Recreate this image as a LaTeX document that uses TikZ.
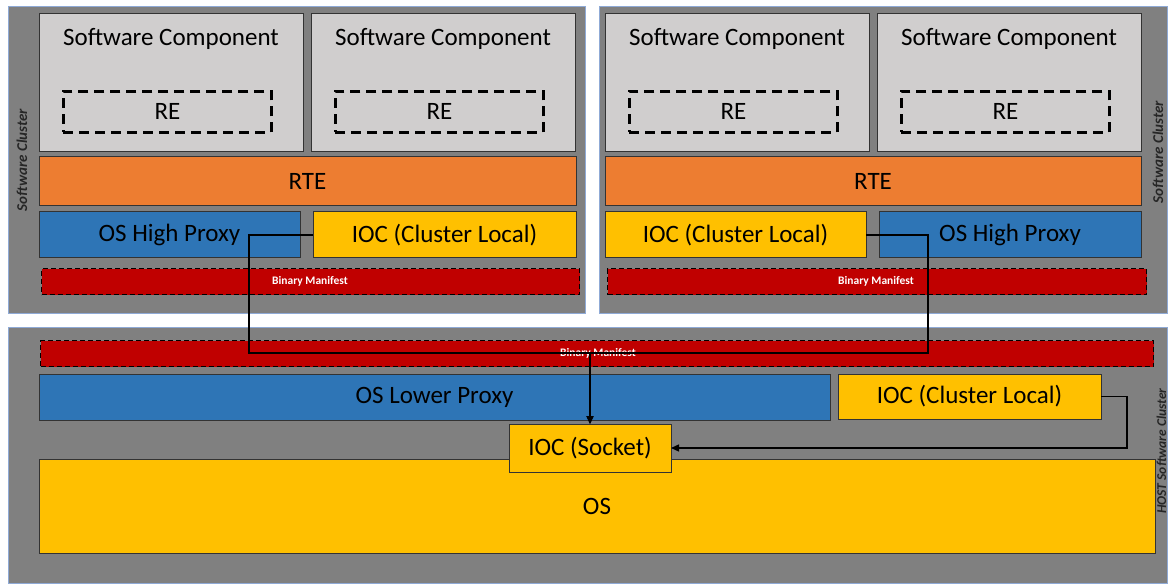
\documentclass[tikz,border=0pt]{standalone}
\usepackage{fontspec}
\setmainfont{Carlito}
\usetikzlibrary{arrows.meta}

\definecolor{panelgrey}{RGB}{128,128,128}
\definecolor{paneledge}{RGB}{143,170,214}
\definecolor{compgrey}{RGB}{208,206,206}
\definecolor{rteorange}{RGB}{237,125,49}
\definecolor{proxyblue}{RGB}{46,117,182}
\definecolor{iocyellow}{RGB}{255,192,0}
\definecolor{manifestred}{RGB}{192,0,0}
\definecolor{labelgrey}{RGB}{38,38,38}

\begin{document}
\begin{tikzpicture}[x=1pt, y=-1pt,
    panel/.style={draw=paneledge, fill=panelgrey, line width=1pt, anchor=north west, inner sep=0pt, outer sep=0pt},
    block/.style={draw=black!80, line width=1pt, anchor=north west, inner sep=0pt, outer sep=0pt, text=black, font=\fontsize{25}{29}\selectfont},
    swbox/.style={block, fill=compgrey, minimum width=264, minimum height=138},
    rebox/.style={draw=black, line width=2.8pt, dash pattern=on 10pt off 6pt, anchor=north west, inner sep=0pt, minimum width=208, minimum height=41, font=\fontsize{25}{29}\selectfont},
    rtebox/.style={block, fill=rteorange, minimum height=49},
    proxybox/.style={block, fill=proxyblue, minimum height=46},
    iocbox/.style={block, fill=iocyellow, minimum height=46},
    manifestbox/.style={draw=black, line width=1.3pt, dash pattern=on 5pt off 3pt, fill=manifestred, anchor=north west, inner sep=0pt, minimum height=26},
    manifesttext/.style={text=white, font=\fontsize{11.5}{13}\selectfont\bfseries},
    clusterlabel/.style={rotate=90, inner sep=1pt, text=labelgrey, font=\fontsize{15}{17}\selectfont\bfseries\itshape},
    comptext/.style={font=\fontsize{25}{29}\selectfont},
    conn/.style={draw=black, line width=1.5pt}
  ]
  \useasboundingbox[fill=white] (0,0) rectangle (1169,585);

  % cluster panels
  \node[panel, minimum width=577, minimum height=306] (leftpanel) at (8,7) {};
  \node[panel, minimum width=568, minimum height=306] (rightpanel) at (599,7) {};
  \node[panel, minimum width=1159, minimum height=256] (hostpanel) at (8,327) {};

  \node[clusterlabel] (leftlabel) at (22,160) {Software Cluster};
  \node[clusterlabel] (rightlabel) at (1158,152) {Software Cluster};
  \node[clusterlabel, font=\fontsize{13.5}{15}\selectfont\bfseries\itshape] (hostlabel) at (1161.5,451) {HOST Software Cluster};

  % left software cluster
  \node[swbox] (swcA) at (39,14) {};
  \node[swbox] (swcB) at (311,14) {};
  \node[comptext] (swtextA) at (171,39) {Software Component};
  \node[comptext] (swtextB) at (443,39) {Software Component};
  \node[rebox] (reA) at (62,90) {RE};
  \node[rebox] (reB) at (334,90) {RE};
  \node[rtebox, minimum width=537] (rteL) at (39,157) {RTE};
  \node[proxybox, minimum width=261] (proxyL) at (39,212) {OS High Proxy};
  \node[iocbox, minimum width=263] (iocL) at (313,212) {IOC (Cluster Local)};
  \node[manifestbox, minimum width=538] (manL) at (41,268) {};
  \node[manifesttext] (mantextL) at (310,281) {Binary Manifest};

  % right software cluster
  \node[swbox] (swcC) at (605,14) {};
  \node[swbox] (swcD) at (877,14) {};
  \node[comptext] (swtextC) at (737,39) {Software Component};
  \node[comptext] (swtextD) at (1009,39) {Software Component};
  \node[rebox] (reC) at (628,90) {RE};
  \node[rebox] (reD) at (900,90) {RE};
  \node[rtebox, minimum width=536] (rteR) at (605,157) {RTE};
  \node[iocbox, minimum width=261] (iocR) at (605,212) {IOC (Cluster Local)};
  \node[proxybox, minimum width=262] (proxyR) at (879,212) {OS High Proxy};
  \node[manifestbox, minimum width=539] (manR) at (607,268) {};
  \node[manifesttext] (mantextR) at (876,281) {Binary Manifest};

  % host software cluster
  \node[manifestbox, minimum width=1113] (manH) at (40,340) {};
  \node[manifesttext] (mantextH) at (598,353) {Binary Manifest};
  \node[proxybox, minimum width=791] (lowerproxy) at (39,374) {OS Lower Proxy};
  \node[iocbox, minimum width=263, minimum height=45] (iocH) at (838,374) {IOC (Cluster Local)};
  \node[block, fill=iocyellow, minimum width=1116, minimum height=94] (os) at (39,459) {OS};
  \node[iocbox, minimum width=162, minimum height=48] (socket) at (509,424) {IOC (Socket)};

  % connections to the socket
  \coordinate (bendL) at (249,353);
  \coordinate (bendR) at (928,353);
  \coordinate (bendH) at (1127,448);
  \draw[conn, -{Triangle[length=8pt,width=7pt]}] (iocL.west) -| (bendL) -| (socket.north);
  \draw[conn, -{Triangle[length=8pt,width=7pt]}] (iocR.east) -| (bendR) -| (socket.north);
  \draw[conn, -{Triangle[length=8pt,width=7pt]}] (iocH.east) -| (bendH) -- (socket.east);
\end{tikzpicture}
\end{document}
